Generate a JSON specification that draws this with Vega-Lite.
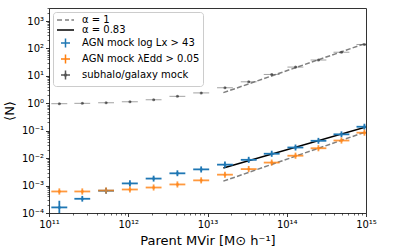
{
  "$schema": "https://vega.github.io/schema/vega-lite/v6.json",
  "width": 317,
  "height": 205,
  "autosize": {"type": "none"},
  "padding": {"left": 49, "top": 8, "right": 41, "bottom": 35},
  "config": {
    "view": {"stroke": "#333333", "strokeWidth": 1},
    "font": "DejaVu Sans"
  },
  "datasets": {
    "pts": [
      {"s": "AGN mock log Lx > 43", "x": 1.35e11, "xlo": 1.07e11, "xhi": 1.70e11, "y": 1.6e-4, "ylo": 4e-5, "yhi": 2.8e-4},
      {"s": "AGN mock log Lx > 43", "x": 2.63e11, "xlo": 2.09e11, "xhi": 3.31e11, "y": 3.3e-4, "ylo": 2.6e-4, "yhi": 4.2e-4},
      {"s": "AGN mock log Lx > 43", "x": 5.25e11, "xlo": 4.17e11, "xhi": 6.61e11, "y": 6.5e-4, "ylo": 5.0e-4, "yhi": 8.4e-4},
      {"s": "AGN mock log Lx > 43", "x": 1.05e12, "xlo": 8.3e11, "xhi": 1.32e12, "y": 1.2e-3, "ylo": 9.3e-4, "yhi": 1.55e-3},
      {"s": "AGN mock log Lx > 43", "x": 2.09e12, "xlo": 1.66e12, "xhi": 2.63e12, "y": 1.8e-3, "ylo": 1.4e-3, "yhi": 2.3e-3},
      {"s": "AGN mock log Lx > 43", "x": 4.17e12, "xlo": 3.31e12, "xhi": 5.25e12, "y": 2.8e-3, "ylo": 2.2e-3, "yhi": 3.6e-3},
      {"s": "AGN mock log Lx > 43", "x": 8.32e12, "xlo": 6.6e12, "xhi": 1.05e13, "y": 3.9e-3, "ylo": 3.0e-3, "yhi": 5.0e-3},
      {"s": "AGN mock log Lx > 43", "x": 1.66e13, "xlo": 1.32e13, "xhi": 2.09e13, "y": 5.8e-3, "ylo": 4.5e-3, "yhi": 7.5e-3},
      {"s": "AGN mock log Lx > 43", "x": 3.31e13, "xlo": 2.63e13, "xhi": 4.17e13, "y": 8.7e-3, "ylo": 6.7e-3, "yhi": 1.12e-2},
      {"s": "AGN mock log Lx > 43", "x": 6.46e13, "xlo": 5.13e13, "xhi": 8.13e13, "y": 1.45e-2, "ylo": 1.12e-2, "yhi": 1.87e-2},
      {"s": "AGN mock log Lx > 43", "x": 1.29e14, "xlo": 1.02e14, "xhi": 1.62e14, "y": 2.45e-2, "ylo": 1.9e-2, "yhi": 3.15e-2},
      {"s": "AGN mock log Lx > 43", "x": 2.51e14, "xlo": 2.0e14, "xhi": 3.16e14, "y": 4.3e-2, "ylo": 3.35e-2, "yhi": 5.5e-2},
      {"s": "AGN mock log Lx > 43", "x": 4.90e14, "xlo": 3.89e14, "xhi": 6.17e14, "y": 7.4e-2, "ylo": 5.8e-2, "yhi": 9.5e-2},
      {"s": "AGN mock log Lx > 43", "x": 9.55e14, "xlo": 7.59e14, "xhi": 1.2e15, "y": 1.4e-1, "ylo": 1.1e-1, "yhi": 1.8e-1},
      {"s": "AGN mock λEdd > 0.05", "x": 1.35e11, "xlo": 1.07e11, "xhi": 1.70e11, "y": 6.1e-4, "ylo": 4.7e-4, "yhi": 7.9e-4},
      {"s": "AGN mock λEdd > 0.05", "x": 2.63e11, "xlo": 2.09e11, "xhi": 3.31e11, "y": 6.1e-4, "ylo": 4.7e-4, "yhi": 7.9e-4},
      {"s": "AGN mock λEdd > 0.05", "x": 5.25e11, "xlo": 4.17e11, "xhi": 6.61e11, "y": 6.6e-4, "ylo": 5.1e-4, "yhi": 8.5e-4},
      {"s": "AGN mock λEdd > 0.05", "x": 1.05e12, "xlo": 8.3e11, "xhi": 1.32e12, "y": 7.2e-4, "ylo": 5.6e-4, "yhi": 9.3e-4},
      {"s": "AGN mock λEdd > 0.05", "x": 2.09e12, "xlo": 1.66e12, "xhi": 2.63e12, "y": 8.5e-4, "ylo": 6.6e-4, "yhi": 1.1e-3},
      {"s": "AGN mock λEdd > 0.05", "x": 4.17e12, "xlo": 3.31e12, "xhi": 5.25e12, "y": 1.1e-3, "ylo": 8.5e-4, "yhi": 1.42e-3},
      {"s": "AGN mock λEdd > 0.05", "x": 8.32e12, "xlo": 6.6e12, "xhi": 1.05e13, "y": 1.55e-3, "ylo": 1.2e-3, "yhi": 2.0e-3},
      {"s": "AGN mock λEdd > 0.05", "x": 1.66e13, "xlo": 1.32e13, "xhi": 2.09e13, "y": 2.5e-3, "ylo": 1.94e-3, "yhi": 3.2e-3},
      {"s": "AGN mock λEdd > 0.05", "x": 3.31e13, "xlo": 2.63e13, "xhi": 4.17e13, "y": 4.0e-3, "ylo": 3.1e-3, "yhi": 5.2e-3},
      {"s": "AGN mock λEdd > 0.05", "x": 6.46e13, "xlo": 5.13e13, "xhi": 8.13e13, "y": 6.9e-3, "ylo": 5.35e-3, "yhi": 8.9e-3},
      {"s": "AGN mock λEdd > 0.05", "x": 1.29e14, "xlo": 1.02e14, "xhi": 1.62e14, "y": 1.23e-2, "ylo": 9.5e-3, "yhi": 1.59e-2},
      {"s": "AGN mock λEdd > 0.05", "x": 2.51e14, "xlo": 2.0e14, "xhi": 3.16e14, "y": 2.3e-2, "ylo": 1.78e-2, "yhi": 2.97e-2},
      {"s": "AGN mock λEdd > 0.05", "x": 4.90e14, "xlo": 3.89e14, "xhi": 6.17e14, "y": 4.4e-2, "ylo": 3.4e-2, "yhi": 5.7e-2},
      {"s": "AGN mock λEdd > 0.05", "x": 9.55e14, "xlo": 7.59e14, "xhi": 1.2e15, "y": 8.5e-2, "ylo": 6.6e-2, "yhi": 1.1e-1},
      {"s": "subhalo/galaxy mock", "x": 1.35e11, "xlo": 1.07e11, "xhi": 1.70e11, "y": 0.97, "ylo": 0.94, "yhi": 1.0},
      {"s": "subhalo/galaxy mock", "x": 2.63e11, "xlo": 2.09e11, "xhi": 3.31e11, "y": 1.0, "ylo": 0.97, "yhi": 1.03},
      {"s": "subhalo/galaxy mock", "x": 5.25e11, "xlo": 4.17e11, "xhi": 6.61e11, "y": 1.05, "ylo": 1.02, "yhi": 1.08},
      {"s": "subhalo/galaxy mock", "x": 1.05e12, "xlo": 8.3e11, "xhi": 1.32e12, "y": 1.14, "ylo": 1.1, "yhi": 1.18},
      {"s": "subhalo/galaxy mock", "x": 2.09e12, "xlo": 1.66e12, "xhi": 2.63e12, "y": 1.35, "ylo": 1.3, "yhi": 1.4},
      {"s": "subhalo/galaxy mock", "x": 4.17e12, "xlo": 3.31e12, "xhi": 5.25e12, "y": 1.8, "ylo": 1.73, "yhi": 1.87},
      {"s": "subhalo/galaxy mock", "x": 8.32e12, "xlo": 6.6e12, "xhi": 1.05e13, "y": 2.4, "ylo": 2.3, "yhi": 2.5},
      {"s": "subhalo/galaxy mock", "x": 1.66e13, "xlo": 1.32e13, "xhi": 2.09e13, "y": 3.7, "ylo": 3.55, "yhi": 3.85},
      {"s": "subhalo/galaxy mock", "x": 3.31e13, "xlo": 2.63e13, "xhi": 4.17e13, "y": 6.1, "ylo": 5.85, "yhi": 6.35},
      {"s": "subhalo/galaxy mock", "x": 6.46e13, "xlo": 5.13e13, "xhi": 8.13e13, "y": 11.3, "ylo": 10.85, "yhi": 11.75},
      {"s": "subhalo/galaxy mock", "x": 1.29e14, "xlo": 1.02e14, "xhi": 1.62e14, "y": 21, "ylo": 20.2, "yhi": 21.8},
      {"s": "subhalo/galaxy mock", "x": 2.51e14, "xlo": 2.0e14, "xhi": 3.16e14, "y": 38, "ylo": 36.5, "yhi": 39.5},
      {"s": "subhalo/galaxy mock", "x": 4.90e14, "xlo": 3.89e14, "xhi": 6.17e14, "y": 73, "ylo": 70, "yhi": 76},
      {"s": "subhalo/galaxy mock", "x": 9.55e14, "xlo": 7.59e14, "xhi": 1.2e15, "y": 140, "ylo": 134, "yhi": 146}
    ],
    "lines": [
      {"s": "α = 1", "g": "hi", "x": 1.585e13, "y": 2.45},
      {"s": "α = 1", "g": "hi", "x": 1e15, "y": 155},
      {"s": "α = 1", "g": "lo", "x": 1.585e13, "y": 1.45e-3},
      {"s": "α = 1", "g": "lo", "x": 1e15, "y": 0.0915},
      {"s": "α = 0.83", "g": "a", "x": 1.585e13, "y": 4.4e-3},
      {"s": "α = 0.83", "g": "a", "x": 1e15, "y": 0.137}
    ]
  },
  "resolve": {"axis": {"x": "independent", "y": "independent"}},
  "layer": [
    {
      "data": {"name": "lines"},
      "transform": [{"filter": "datum.s == 'α = 1'"}],
      "mark": {"type": "line", "color": "#808080", "strokeWidth": 1.5, "strokeDash": [5, 2.2], "clip": true},
      "encoding": {
        "x": {"field": "x", "type": "quantitative",
          "scale": {"type": "log", "domain": [1e11, 1e15], "nice": false},
          "axis": {"orient": "bottom", "values": [2e11,3e11,4e11,5e11,6e11,7e11,8e11,9e11,2e12,3e12,4e12,5e12,6e12,7e12,8e12,9e12,2e13,3e13,4e13,5e13,6e13,7e13,8e13,9e13,2e14,3e14,4e14,5e14,6e14,7e14,8e14,9e14],
            "labels": false, "title": null, "domain": false, "grid": false, "tickSize": 2, "tickWidth": 0.6, "tickColor": "#000"}},
        "y": {"field": "y", "type": "quantitative",
          "scale": {"type": "log", "domain": [0.0001, 3000], "nice": false},
          "axis": {"orient": "left", "values": [2e-4,3e-4,4e-4,5e-4,6e-4,7e-4,8e-4,9e-4,2e-3,3e-3,4e-3,5e-3,6e-3,7e-3,8e-3,9e-3,0.02,0.03,0.04,0.05,0.06,0.07,0.08,0.09,0.2,0.3,0.4,0.5,0.6,0.7,0.8,0.9,2,3,4,5,6,7,8,9,20,30,40,50,60,70,80,90,200,300,400,500,600,700,800,900,2000,3000],
            "labels": false, "title": null, "domain": false, "grid": false, "tickSize": 2, "tickWidth": 0.6, "tickColor": "#000"}},
        "detail": {"field": "g"}
      }
    },
    {
      "data": {"name": "lines"},
      "transform": [{"filter": "datum.s == 'α = 0.83'"}],
      "mark": {"type": "line", "color": "#000000", "strokeWidth": 1.5, "clip": true},
      "encoding": {
        "x": {"field": "x", "type": "quantitative", "scale": {"type": "log", "domain": [1e11, 1e15], "nice": false}, "axis": null},
        "y": {"field": "y", "type": "quantitative", "scale": {"type": "log", "domain": [0.0001, 3000], "nice": false}, "axis": null},
        "detail": {"field": "g"}
      }
    },
    {
      "data": {"name": "pts"},
      "mark": {"type": "rule", "clip": true},
      "encoding": {
        "x": {"field": "xlo", "type": "quantitative", "scale": {"type": "log", "domain": [1e11, 1e15], "nice": false}, "axis": null},
        "x2": {"field": "xhi"},
        "y": {"field": "y", "type": "quantitative", "scale": {"type": "log", "domain": [0.0001, 3000], "nice": false}, "axis": null},
        "stroke": {"field": "s", "type": "nominal", "legend": null,
          "scale": {"domain": ["AGN mock log Lx > 43", "AGN mock λEdd > 0.05", "subhalo/galaxy mock"], "range": ["#1f77b4", "#ff7f0e", "#555555"]}},
        "strokeWidth": {"condition": {"test": "datum.s == 'subhalo/galaxy mock'", "value": 1}, "value": 1.8},
        "opacity": {"condition": [{"test": "datum.s == 'subhalo/galaxy mock'", "value": 0.55}, {"test": "datum.s == 'AGN mock λEdd > 0.05'", "value": 0.8}], "value": 1}
      }
    },
    {
      "data": {"name": "pts"},
      "mark": {"type": "rule", "clip": true},
      "encoding": {
        "x": {"field": "x", "type": "quantitative", "scale": {"type": "log", "domain": [1e11, 1e15], "nice": false}, "axis": null},
        "y": {"field": "ylo", "type": "quantitative", "scale": {"type": "log", "domain": [0.0001, 3000], "nice": false}, "axis": null},
        "y2": {"field": "yhi"},
        "stroke": {"field": "s", "type": "nominal", "legend": null,
          "scale": {"domain": ["AGN mock log Lx > 43", "AGN mock λEdd > 0.05", "subhalo/galaxy mock"], "range": ["#1f77b4", "#ff7f0e", "#555555"]}},
        "strokeWidth": {"condition": {"test": "datum.s == 'subhalo/galaxy mock'", "value": 1}, "value": 1.8},
        "opacity": {"condition": [{"test": "datum.s == 'subhalo/galaxy mock'", "value": 0.55}, {"test": "datum.s == 'AGN mock λEdd > 0.05'", "value": 0.8}], "value": 1}
      }
    },
    {
      "data": {"name": "pts"},
      "mark": {"type": "point", "filled": false, "size": 1, "strokeWidth": 1.2, "opacity": 1, "clip": true},
      "encoding": {
        "x": {"field": "x", "type": "quantitative",
          "scale": {"type": "log", "domain": [1e11, 1e15], "nice": false},
          "axis": {"orient": "bottom", "values": [1e11, 1e12, 1e13, 1e14, 1e15],
            "labelExpr": "'10' + replace(replace(replace(replace(replace(replace(replace(toString(round(log(datum.value)/LN10)),'-','⁻'),regexp('0','g'),'⁰'),regexp('1','g'),'¹'),regexp('2','g'),'²'),regexp('3','g'),'³'),regexp('4','g'),'⁴'),regexp('5','g'),'⁵')",
            "title": "Parent MVir [M⊙ h⁻¹]", "grid": false, "domain": false, "tickSize": 3.5, "tickWidth": 0.8, "tickColor": "#000",
            "labelPadding": 3, "labelFont": "DejaVu Sans", "labelFontSize": 10, "labelColor": "#000", "labelFlush": false, "labelOverlap": false,
            "titleFont": "DejaVu Sans", "titleFontSize": 13, "titleFontWeight": "normal", "titleColor": "#000", "titlePadding": 5}},
        "y": {"field": "y", "type": "quantitative",
          "scale": {"type": "log", "domain": [0.0001, 3000], "nice": false},
          "axis": {"orient": "left", "values": [0.0001, 0.001, 0.01, 0.1, 1, 10, 100, 1000],
            "labelExpr": "'10' + replace(replace(replace(replace(replace(replace(replace(toString(round(log(datum.value)/LN10)),'-','⁻'),regexp('0','g'),'⁰'),regexp('1','g'),'¹'),regexp('2','g'),'²'),regexp('3','g'),'³'),regexp('4','g'),'⁴'),regexp('5','g'),'⁵')",
            "title": "⟨N⟩", "grid": false, "domain": false, "tickSize": 3.5, "tickWidth": 0.8, "tickColor": "#000",
            "labelPadding": 2, "labelFont": "DejaVu Sans", "labelFontSize": 10, "labelColor": "#000", "labelFlush": false, "labelOverlap": false,
            "titleFont": "DejaVu Sans", "titleFontSize": 13, "titleFontWeight": "normal", "titleColor": "#000", "titlePadding": 5}},
        "color": {"field": "s", "type": "nominal",
          "scale": {"domain": ["α = 1", "α = 0.83", "AGN mock log Lx > 43", "AGN mock λEdd > 0.05", "subhalo/galaxy mock"], "range": ["#808080", "#000000", "#1f77b4", "#ff7f0e", "#555555"]},
          "legend": {"title": null, "orient": "top-left", "offset": 4, "padding": 3, "strokeColor": "#cccccc", "fillColor": "rgba(255,255,255,0.8)", "cornerRadius": 3,
            "labelFont": "DejaVu Sans", "labelFontSize": 10, "labelColor": "#000", "labelLimit": 300, "symbolSize": 64, "symbolStrokeWidth": 1.5, "labelOffset": 16, "rowPadding": 0}},
        "shape": {"field": "s", "type": "nominal",
          "scale": {"domain": ["α = 1", "α = 0.83", "AGN mock log Lx > 43", "AGN mock λEdd > 0.05", "subhalo/galaxy mock"],
            "range": ["M-1,0H0.25M1,0H2M2.6,0H3.25", "M-1,0H3.25", "M0,0H2.25M1.125,-1.125V1.125", "M0,0H2.25M1.125,-1.125V1.125", "M0,0H2.25M1.125,-1.125V1.125M0.875,0A0.25,0.25 0 1,0 1.375,0A0.25,0.25 0 1,0 0.875,0"]},
          "legend": {"title": null, "orient": "top-left", "offset": 4, "padding": 3, "strokeColor": "#cccccc", "fillColor": "rgba(255,255,255,0.8)", "cornerRadius": 3,
            "labelFont": "DejaVu Sans", "labelFontSize": 10, "labelColor": "#000", "labelLimit": 300, "symbolSize": 64, "symbolStrokeWidth": 1.5, "labelOffset": 16, "rowPadding": 0}}
      }
    },
    {
      "data": {"name": "pts"},
      "mark": {"type": "point", "shape": "circle", "filled": true, "size": 9, "strokeWidth": 0, "clip": true},
      "encoding": {
        "x": {"field": "x", "type": "quantitative", "scale": {"type": "log", "domain": [1e11, 1e15], "nice": false}, "axis": null},
        "y": {"field": "y", "type": "quantitative", "scale": {"type": "log", "domain": [0.0001, 3000], "nice": false}, "axis": null},
        "fill": {"field": "s", "type": "nominal", "legend": null,
          "scale": {"domain": ["AGN mock log Lx > 43", "AGN mock λEdd > 0.05", "subhalo/galaxy mock"], "range": ["#1f77b4", "#ff8a22", "#444444"]}}
      }
    }
  ]
}
